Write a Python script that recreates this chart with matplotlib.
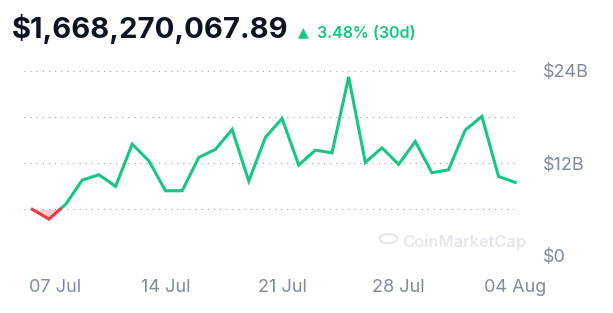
import numpy as np
import pandas as pd
import matplotlib
matplotlib.use("Agg")
import matplotlib.pyplot as plt
import matplotlib.dates as mdates
from matplotlib.patches import Circle
from matplotlib.transforms import ScaledTranslation

# --- datos (volumen diario, miles de millones USD) ---
fechas = pd.date_range("2024-07-06", "2024-08-04", freq="D")
volumen = [6.01, 4.75, 6.66, 9.82, 10.51, 9.00, 14.49, 12.32, 8.43, 8.43,
           12.77, 13.81, 16.40, 9.69, 15.36, 17.83, 11.77, 13.71, 13.36, 23.23,
           12.12, 14.01, 11.86, 14.84, 10.77, 11.16, 16.31, 18.09, 10.29, 9.52]
ticks_y = [0, 12, 24]
etiquetas_y = ["$0", "$12B", "$24B"]
grid_menor = [6, 18]
ticks_x = ["2024-07-07", "2024-07-14", "2024-07-21", "2024-07-28", "2024-08-04"]
etiquetas_x = ["07 Jul", "14 Jul", "21 Jul", "28 Jul", "04 Aug"]
total = "$1,668,270,067.89"
cambio = "3.48% (30d)"

verde = "#16c784"
rojo = "#ea3943"
gris = "#808a9d"

x = mdates.date2num(fechas)
y = np.array(volumen)
base = y[0]

# insertar los cruces con la linea base para separar verde / rojo
xs, ys = [x[0]], [y[0]]
for i in range(1, len(x)):
    d0, d1 = y[i - 1] - base, y[i] - base
    if d0 * d1 < 0:
        t = d0 / (d0 - d1)
        xs.append(x[i - 1] + t * (x[i] - x[i - 1]))
        ys.append(base)
    xs.append(x[i])
    ys.append(y[i])
xs, ys = np.array(xs), np.array(ys)
arriba = np.where(ys >= base, ys, np.nan)
abajo = np.where(ys <= base, ys, np.nan)

W, H = 613, 313
fig = plt.figure(figsize=(W / 100, H / 100), dpi=100)
ax = fig.add_axes([24 / W, (H - 255.6) / H, 492 / W, 184.6 / H])

ax.fill_between(xs, base, ys, where=ys <= base, color="#f9c9cd", lw=0, alpha=0.9)
ax.plot(xs, arriba, color=verde, lw=2.2, solid_joinstyle="miter", clip_on=False, zorder=3)
ax.plot(xs, abajo, color=rojo, lw=2.2, solid_joinstyle="miter", clip_on=False, zorder=3)

ax.set_ylim(0, 24)
ax.set_xlim(x[0] - 0.5, x[-1] + 0.05)

ax.set_yticks(ticks_y)
ax.set_yticklabels(etiquetas_y)
ax.set_yticks(grid_menor, minor=True)
ax.yaxis.tick_right()
ax.grid(axis="y", which="both", color="#9aa0ab", lw=0.8, linestyle=(0, (1, 4.5)))
ax.tick_params(axis="y", which="both", length=0, pad=19.5, labelsize=13, labelcolor=gris)
for lbl in ax.get_yticklabels():
    lbl.set_family("Inter")

ax.set_xticks(mdates.date2num(pd.to_datetime(ticks_x)))
ax.set_xticklabels(etiquetas_x)
ax.tick_params(axis="x", length=0, pad=17, labelsize=13, labelcolor=gris)
for lbl in ax.get_xticklabels():
    lbl.set_family("Inter")
primera = ax.get_xticklabels()[0]
primera.set_transform(primera.get_transform() + ScaledTranslation(6 / 100, 0, fig.dpi_scale_trans))

for s in ax.spines.values():
    s.set_visible(False)

# marca de agua
fig.patches.append(Circle((388.5 / W, 1 - 238.5 / H), 9 / W, transform=fig.transFigure,
                          fill=False, ec="#e3e6ec", lw=1.6))
fig.text(402 / W, 1 - 247 / H, "CoinMarketCap", fontsize=11.8, color="#e3e6ec",
         family="Inter", va="baseline", weight="semibold")

# encabezado
fig.text(12 / W, 1 - 38 / H, total, fontsize=21, fontweight="bold", color="#0d1421",
         family="Inter", va="baseline")
fig.text(298 / W, 1 - 36.5 / H, "▲", fontsize=10, color=verde, family="DejaVu Sans", va="baseline")
fig.text(317 / W, 1 - 38 / H, cambio, fontsize=11.5, color=verde, family="Inter",
         weight="semibold", va="baseline")

fig.savefig("out.png", dpi=100, facecolor="white")
